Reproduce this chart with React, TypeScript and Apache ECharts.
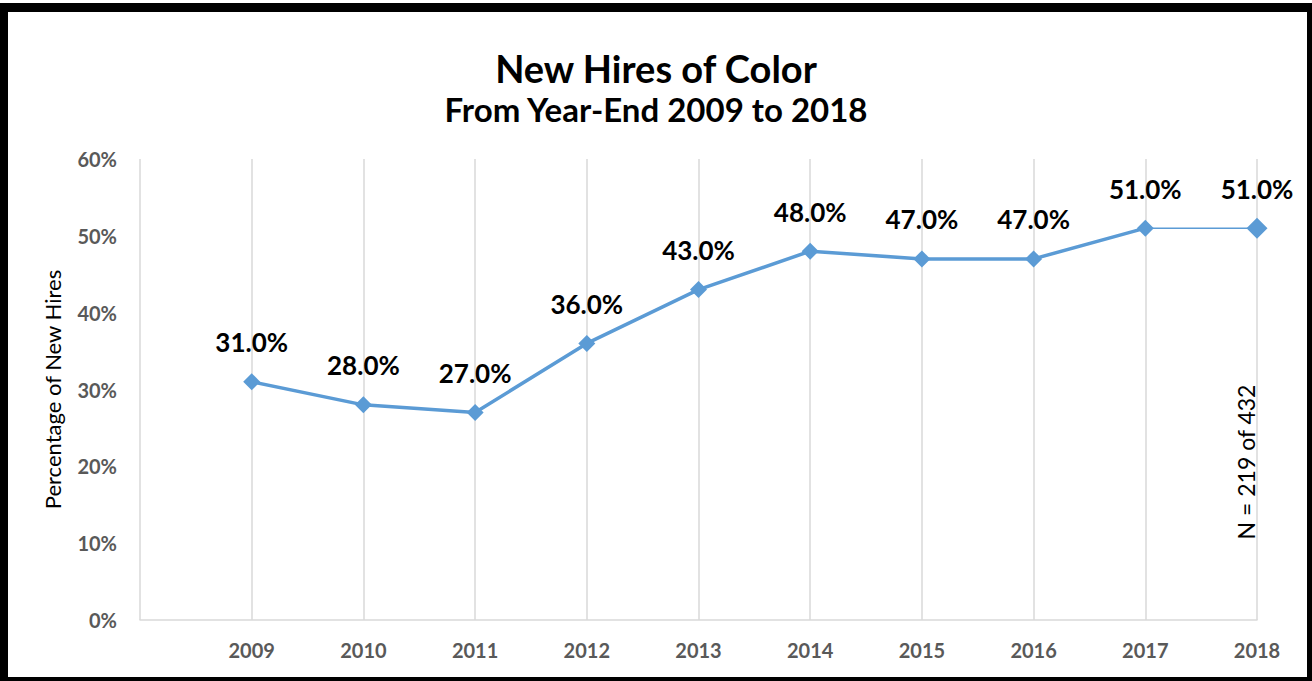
import React, { useEffect, useRef } from "react";
import * as echarts from "echarts";

const years = [2009, 2010, 2011, 2012, 2013, 2014, 2015, 2016, 2017, 2018];
const values = [31, 28, 27, 36, 43, 48, 47, 47, 51, 51];
const yTicks = [0, 10, 20, 30, 40, 50, 60];
const titleText = "New Hires of Color";
const subtitleText = "From Year-End 2009 to 2018";
const yAxisName = "Percentage of New Hires";
const noteText = "N = 219 of 432";

const FONT = "Lato, 'Open Sans', sans-serif";
const BLUE = "#5B9BD5";

export default function App() {
  const ref = useRef<HTMLDivElement>(null);

  useEffect(() => {
    document.body.style.margin = "0";
    if (!ref.current) return;
    const chart = echarts.init(ref.current, null, { renderer: "svg" });
    const pts = years.map((y, i) => [y, values[i]]);
    const main = pts.slice(0, pts.length - 1);
    const tail = pts.slice(pts.length - 2);
    const labelCfg = {
      show: true,
      position: "top",
      distance: 18,
      color: "#000",
      fontFamily: FONT,
      fontWeight: "bold",
      fontSize: 26,
      formatter: (p: any) => p.value[1].toFixed(1) + "%",
    };
    chart.setOption({
      animation: false,
      backgroundColor: "#fff",
      title: [
        {
          text: titleText,
          left: "center",
          top: 44,
          textStyle: { fontFamily: FONT, fontWeight: "bold", fontSize: 38, color: "#000" },
        },
        {
          text: subtitleText,
          left: "center",
          top: 87,
          textStyle: { fontFamily: FONT, fontWeight: "bold", fontSize: 33, color: "#000" },
        },
      ],
      grid: { left: 140, right: 55, top: 159, bottom: 61, containLabel: false },
      xAxis: {
        type: "value",
        min: 2008,
        max: 2018,
        interval: 1,
        axisLine: { show: true, lineStyle: { color: "#D9D9D9", width: 1.5 } },
        axisTick: { show: false },
        splitLine: { show: true, lineStyle: { color: "#D9D9D9", width: 1.5 } },
        axisLabel: {
          margin: 20,
          color: "#595959",
          fontFamily: FONT,
          fontWeight: "bold",
          fontSize: 20,
          formatter: (v: number) => (years.indexOf(v) >= 0 ? String(v) : ""),
        },
      },
      yAxis: {
        type: "value",
        min: yTicks[0],
        max: yTicks[yTicks.length - 1],
        interval: 10,
        name: yAxisName,
        nameLocation: "middle",
        nameGap: 77,
        nameTextStyle: { fontFamily: FONT, fontSize: 22, color: "#000" },
        axisLine: { show: false },
        axisTick: { show: false },
        splitLine: { show: false },
        axisLabel: {
          margin: 23,
          color: "#595959",
          fontFamily: FONT,
          fontWeight: "bold",
          fontSize: 20,
          formatter: "{value}%",
        },
      },
      graphic: [
        {
          type: "text",
          x: 1246,
          y: 462,
          rotation: Math.PI / 2,
          style: {
            text: noteText,
            fontFamily: FONT,
            fontSize: 23,
            fill: "#000",
            align: "center",
            verticalAlign: "middle",
          },
        },
      ],
      series: [
        {
          type: "line",
          data: tail,
          symbol: "diamond",
          symbolSize: (v: any) => (v[0] === years[years.length - 1] ? 21 : 0),
          lineStyle: { color: BLUE, width: 1.5 },
          itemStyle: { color: BLUE },
          label: {
            ...labelCfg,
            distance: 16,
            formatter: (p: any) => (p.value[0] === years[years.length - 1] ? p.value[1].toFixed(1) + "%" : ""),
          },
          z: 2,
        },
        {
          type: "line",
          data: main,
          symbol: "diamond",
          symbolSize: 17,
          lineStyle: { color: BLUE, width: 3.5 },
          itemStyle: { color: BLUE },
          label: labelCfg,
          z: 3,
        },
      ],
    });
    return () => chart.dispose();
  }, []);

  return (
    <div style={{ position: "relative", width: 1312, height: 681, background: "#fff" }}>
      <div ref={ref} style={{ position: "absolute", left: 0, top: 0, width: 1312, height: 681 }} />
      <div
        style={{
          position: "absolute",
          left: 0,
          top: 3,
          width: 1312,
          height: 678,
          boxSizing: "border-box",
          borderStyle: "solid",
          borderColor: "#000",
          borderTopWidth: 9,
          borderLeftWidth: 8,
          borderRightWidth: 5,
          borderBottomWidth: 4,
          pointerEvents: "none",
        }}
      />
    </div>
  );
}
